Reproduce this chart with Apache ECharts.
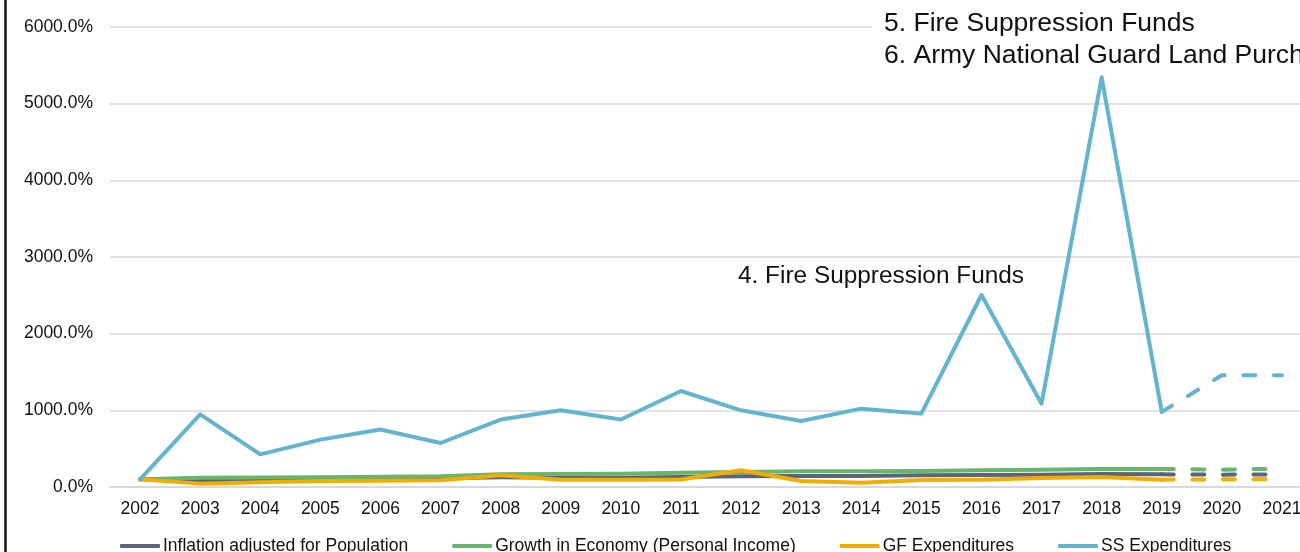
<!DOCTYPE html>
<html>
<head>
<meta charset="utf-8">
<script src="https://cdn.jsdelivr.net/npm/echarts@6/dist/echarts.min.js"></script>
<style>
  html, body { margin: 0; padding: 0; background: #fff; overflow: hidden; }
  #chart { width: 1312px; height: 552px; }
</style>
</head>
<body>
<div id="chart"></div>
<script>
const years = ['2002', '2003', '2004', '2005', '2006', '2007', '2008', '2009', '2010', '2011',
    '2012', '2013', '2014', '2015', '2016', '2017', '2018', '2019', '2020', '2021'];

// actual values 2002-2019 (percent, 2002 = 100%)
const inflationPop = [100, 87, 95, 100, 105, 113, 126, 122, 122, 130, 140, 144, 144, 152, 155, 161, 170, 165];
const econGrowth = [100, 122, 125, 128, 135, 140, 165, 170, 172, 185, 196, 204, 204, 210, 220, 226, 235, 235];
const gfExpend = [100, 44, 62, 78, 80, 87, 152, 96, 96, 98, 218, 78, 57, 90, 96, 117, 130, 96];
const ssExpend = [100, 948, 426, 618, 749, 574, 880, 1000, 880, 1252, 1000, 861, 1022, 957, 2504, 1087, 5344, 980];

// projected 2019-2021 (dashed)
const inflationProj = [165, 161, 165];
const econProj = [235, 226, 240];
const gfProj = [96, 100, 105];
const ssProj = [980, 1457, 1457];

const yTicks = [0, 1000, 2000, 3000, 4000, 5000, 6000];

const colors = {
    inflation: '#5b6478',
    econ: '#6ab56e',
    gf: '#f2ae00',
    ss: '#63b5cf'
};

const FONT = 'Liberation Sans, Arial, sans-serif';

// pad projections so they start at 2019
const padProj = (arr) => new Array(years.length - arr.length).fill(null).concat(arr);

function solidSeries(name, data, color) {
    return {
        name: name,
        type: 'line',
        data: data,
        symbol: 'none',
        color: color,
        lineStyle: { width: 4, color: color, cap: 'round', join: 'round' }
    };
}

function dashedSeries(name, data, color) {
    return {
        name: name,
        type: 'line',
        data: padProj(data),
        symbol: 'none',
        color: color,
        lineStyle: { width: 4, color: color, type: [12, 18.6], cap: 'round' }
    };
}

const chart = echarts.init(document.getElementById('chart'));

const option = {
    animation: false,
    textStyle: { fontFamily: FONT },
    grid: { left: 110, right: 0, top: 27, bottom: 65, containLabel: false },
    xAxis: {
        type: 'category',
        data: years,
        boundaryGap: true,
        axisLine: { lineStyle: { color: '#d9d9d9', width: 2 } },
        axisTick: { show: false },
        axisLabel: { color: '#111', fontSize: 17.5, margin: 13, interval: 0 }
    },
    yAxis: {
        type: 'value',
        min: yTicks[0],
        max: yTicks[yTicks.length - 1],
        interval: 1000,
        axisLine: { show: false },
        axisTick: { show: false },
        splitLine: { lineStyle: { color: '#d9d9d9', width: 1.5 } },
        axisLabel: {
            color: '#111', fontSize: 17.5, margin: 17,
            formatter: (v) => v.toFixed(1) + '%'
        }
    },
    legend: {
        data: ['Inflation adjusted for Population', 'Growth in Economy (Personal Income)', 'GF Expenditures', 'SS Expenditures'],
        left: 120,
        top: 537,
        padding: 0,
        icon: 'roundRect',
        itemWidth: 40,
        itemHeight: 4,
        itemGap: 44,
        textStyle: { color: '#111', fontSize: 17.5, padding: [0, 0, 0, -2] }
    },
    graphic: [
        {
            type: 'line',
            shape: { x1: 5.5, y1: 0, x2: 5.5, y2: 552 },
            style: { stroke: '#111', lineWidth: 2.5 }
        },
        {
            // white box behind the top annotation (hides the 6000% gridline)
            type: 'rect', z: 100,
            shape: { x: 872, y: 6, width: 440, height: 62 },
            style: { fill: '#fff' }
        },
        {
            type: 'text', left: 738, top: 264, z: 101,
            style: { text: '4. Fire Suppression Funds', fill: '#111', fontSize: 24.4, fontFamily: FONT }
        },
        {
            type: 'text', left: 884, top: 10, z: 101,
            style: { text: '5. Fire Suppression Funds', fill: '#111', fontSize: 26.5, fontFamily: FONT }
        },
        {
            type: 'text', left: 884, top: 42, z: 101,
            style: { text: '6. Army National Guard Land Purchase', fill: '#111', fontSize: 26.5, fontFamily: FONT }
        }
    ],
    series: [
        solidSeries('Inflation adjusted for Population', inflationPop, colors.inflation),
        solidSeries('Growth in Economy (Personal Income)', econGrowth, colors.econ),
        solidSeries('GF Expenditures', gfExpend, colors.gf),
        dashedSeries('Inflation proj', inflationProj, colors.inflation),
        dashedSeries('Economy proj', econProj, colors.econ),
        dashedSeries('GF proj', gfProj, colors.gf),
        solidSeries('SS Expenditures', ssExpend, colors.ss),
        dashedSeries('SS proj', ssProj, colors.ss)
    ]
};

chart.setOption(option);
</script>
</body>
</html>
